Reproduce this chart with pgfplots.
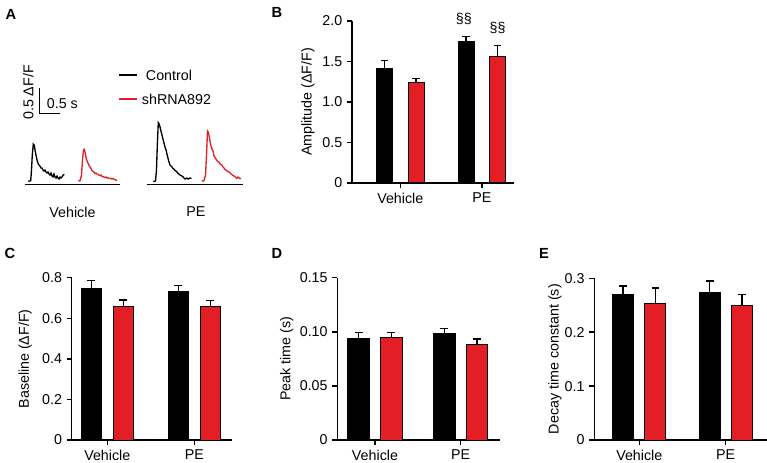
\documentclass[border=0pt]{standalone}
\usepackage{fontspec}
\setmainfont{Liberation Sans}
\usepackage{pgfplots}
\pgfplotsset{compat=1.18}
\definecolor{myred}{RGB}{227,30,36}
\newcommand\tf{\fontsize{10.7}{12.8}\selectfont}
\pgfplotsset{
 barpanel/.style={
  scale only axis, anchor=south west,
  axis x line=bottom, axis y line=left,
  axis line style={-, line width=1.1pt},
  tick align=outside, major tick length=3.75pt,
  tick style={line width=1.1pt, black},
  xtick={1,2}, xticklabels={Vehicle,PE},
  ymin=0, clip=false, ybar, bar shift=0pt,
  ticklabel style={font=\tf},
  ylabel style={font=\tf, at={(axis description cs:#1,0.5)}, anchor=center},
  error bars/y dir=plus, error bars/y explicit,
  error bars/error mark=|,
  error bars/error bar style={line width=1.1pt, black},
  error bars/error mark options={line width=1.1pt, mark size=2.9pt, black},
 },
 blk/.style={fill=black, draw=black, line width=0.75pt},
 rd/.style={fill=myred, draw=black, line width=0.75pt},
}
\begin{document}
\begin{tikzpicture}
\path[use as bounding box] (0,0) rectangle (575.25pt,-347.25pt);

% ---------------- Panel A ----------------
\begin{axis}[hide axis, anchor=south west, at={(0.12pt,-143.8pt)},
  x=31.05pt, y=37.5pt, xmin=-0.6, xmax=5.5, ymin=-0.2, ymax=2.5, clip=false]
% underlines
\addplot[black, line width=1.1pt] coordinates {(0,-0.052) (2.295,-0.052)};
\addplot[black, line width=1.1pt] coordinates {(2.940,-0.052) (5.258,-0.052)};
% scale bar
\addplot[black, line width=0.8pt] coordinates {(0.345,1.868) (0.345,1.368) (0.845,1.368)};
% legend lines
\addplot[black, line width=1.1pt] coordinates {(2.278,2.134) (2.713,2.134)};
\addplot[myred, line width=1.1pt] coordinates {(2.278,1.654) (2.713,1.654)};
% vehicle control
\addplot[black, line width=1pt] coordinates {
(0.080,0.008) (0.138,0.020) (0.157,0.234) (0.176,0.534) (0.200,0.754) (0.225,0.734)
(0.242,0.634) (0.266,0.534) (0.290,0.434) (0.314,0.374) (0.338,0.334) (0.362,0.314)
(0.386,0.274) (0.411,0.274) (0.435,0.234) (0.459,0.214) (0.483,0.234) (0.507,0.194)
(0.531,0.174) (0.556,0.194) (0.580,0.154) (0.604,0.134) (0.628,0.174) (0.652,0.114)
(0.676,0.094) (0.700,0.154) (0.725,0.094) (0.749,0.074) (0.773,0.114) (0.797,0.074)
(0.821,0.054) (0.845,0.094) (0.870,0.074) (0.894,0.094) (0.918,0.134) (0.954,0.144)};
% vehicle shRNA
\addplot[myred, line width=1pt] coordinates {
(1.287,0.014) (1.329,0.020) (1.365,0.134) (1.389,0.434) (1.413,0.634) (1.430,0.648)
(1.449,0.594) (1.473,0.494) (1.498,0.414) (1.522,0.374) (1.546,0.324) (1.570,0.294)
(1.594,0.264) (1.618,0.224) (1.643,0.204) (1.667,0.194) (1.691,0.164) (1.715,0.174)
(1.739,0.154) (1.763,0.144) (1.787,0.134) (1.812,0.124) (1.836,0.134) (1.860,0.104)
(1.884,0.104) (1.908,0.094) (1.932,0.084) (1.957,0.094) (1.981,0.074) (2.005,0.078)
(2.029,0.068) (2.053,0.064) (2.077,0.068) (2.101,0.054) (2.126,0.062) (2.150,0.050)
(2.174,0.044) (2.198,0.034) (2.222,0.020)};
% PE control
\addplot[black, line width=1pt] coordinates {
(3.099,0.004) (3.152,0.014) (3.176,0.234) (3.196,0.734) (3.220,1.180) (3.242,1.154)
(3.261,1.094) (3.285,1.014) (3.309,0.934) (3.333,0.854) (3.357,0.774) (3.382,0.694)
(3.406,0.634) (3.430,0.554) (3.454,0.474) (3.478,0.394) (3.502,0.334) (3.527,0.314)
(3.551,0.294) (3.575,0.264) (3.599,0.254) (3.623,0.224) (3.647,0.214) (3.671,0.194)
(3.696,0.164) (3.720,0.154) (3.744,0.134) (3.768,0.124) (3.792,0.114) (3.816,0.098)
(3.841,0.074) (3.865,0.054) (3.889,0.064) (3.913,0.074) (3.937,0.054) (3.961,0.064)
(3.986,0.074) (4.022,0.064)};
% PE shRNA
\addplot[myred, line width=1pt] coordinates {
(4.268,0.008) (4.324,0.024) (4.360,0.134) (4.384,0.534) (4.408,1.014) (4.428,0.994)
(4.444,0.924) (4.469,0.814) (4.493,0.714) (4.517,0.654) (4.541,0.614) (4.565,0.514)
(4.589,0.484) (4.614,0.454) (4.638,0.424) (4.662,0.404) (4.686,0.394) (4.710,0.354)
(4.734,0.344) (4.758,0.334) (4.783,0.294) (4.807,0.274) (4.831,0.244) (4.855,0.234)
(4.879,0.214) (4.903,0.204) (4.928,0.194) (4.952,0.180) (4.976,0.154) (5.000,0.144)
(5.024,0.124) (5.048,0.114) (5.072,0.104) (5.097,0.084) (5.121,0.068) (5.145,0.094)
(5.169,0.074) (5.193,0.068) (5.210,0.054)};
\node[font=\tf, rotate=90] at (axis cs:0.08,1.784) {0.5 ΔF/F};
\node[font=\tf, anchor=west, inner sep=0pt] at (axis cs:0.524,1.568) {0.5 s};
\node[font=\tf, anchor=west, inner sep=0pt] at (axis cs:2.915,2.134) {Control};
\node[font=\tf, anchor=west, inner sep=0pt] at (axis cs:2.819,1.654) {shRNA892};
\node[font=\tf] at (axis cs:1.147,-0.606) {Vehicle};
\node[font=\tf] at (axis cs:4.130,-0.606) {PE};
\end{axis}

% ---------------- Panel B ----------------
\begin{axis}[barpanel=-0.272, at={(264pt,-137.25pt)}, width=121.5pt, height=121.5pt,
  xmin=0.407, xmax=2.395, ymax=2, ytick={0,0.5,1,1.5,2}, yticklabels={0,0.5,1.0,1.5,2.0},
  bar width=0.196, ylabel={Amplitude (ΔF/F)}]
\addplot[blk] coordinates {(0.807,1.41) +- (0,0.10) (1.807,1.75) +- (0,0.057)};
\addplot[rd] coordinates {(1.193,1.24) +- (0,0.05) (2.193,1.56) +- (0,0.135)};
\node[font=\tf] at (axis cs:1.78,1.807) [yshift=13.5pt] {§§};
\node[font=\tf] at (axis cs:2.193,1.695) [yshift=13.5pt] {§§};
\end{axis}

% ---------------- Panel C ----------------
\begin{axis}[barpanel=-0.291, at={(53.775pt,-330pt)}, width=120.2pt, height=121.7pt,
  xmin=0.591, xmax=2.433, ymax=0.8, ytick={0,0.2,0.4,0.6,0.8}, yticklabels={0,0.2,0.4,0.6,0.8},
  bar width=0.236, ylabel={Baseline (ΔF/F)}]
\addplot[blk] coordinates {(0.816,0.747) +- (0,0.040) (1.816,0.734) +- (0,0.027)};
\addplot[rd] coordinates {(1.184,0.657) +- (0,0.033) (2.184,0.657) +- (0,0.031)};
\end{axis}

% ---------------- Panel D ----------------
\begin{axis}[barpanel=-0.311, at={(252.98pt,-330pt)}, width=122pt, height=121.7pt,
  xmin=0.56, xmax=2.459, ymax=0.15, ytick={0,0.05,0.1,0.15}, yticklabels={0,0.05,0.10,0.15},
  bar width=0.251, ylabel={Peak time (s)}]
\addplot[blk] coordinates {(0.809,0.0939) +- (0,0.0056) (1.809,0.0983) +- (0,0.0046)};
\addplot[rd] coordinates {(1.191,0.0946) +- (0,0.0049) (2.191,0.0884) +- (0,0.0049)};
\end{axis}

% ---------------- Panel E ----------------
\begin{axis}[barpanel=-0.228, at={(445.7pt,-330pt)}, width=129.3pt, height=121.3pt,
  xmin=0.479, xmax=2.474, ymax=0.3, ytick={0,0.1,0.2,0.3}, yticklabels={0,0.1,0.2,0.3},
  bar width=0.243, ylabel={Decay time constant (s)}]
\addplot[blk] coordinates {(0.814,0.269) +- (0,0.017) (1.814,0.273) +- (0,0.022)};
\addplot[rd] coordinates {(1.186,0.254) +- (0,0.028) (2.186,0.249) +- (0,0.021)};
\end{axis}

% panel letters
\begin{scope}[x=0.75pt, y=-0.75pt]
\node[font=\bfseries\fontsize{11}{13}\selectfont] at (11,14) {A};
\node[font=\bfseries\fontsize{11}{13}\selectfont] at (277,12) {B};
\node[font=\bfseries\fontsize{11}{13}\selectfont] at (10,253) {C};
\node[font=\bfseries\fontsize{11}{13}\selectfont] at (277,253) {D};
\node[font=\bfseries\fontsize{11}{13}\selectfont] at (544,253) {E};
\end{scope}
\end{tikzpicture}
\end{document}
